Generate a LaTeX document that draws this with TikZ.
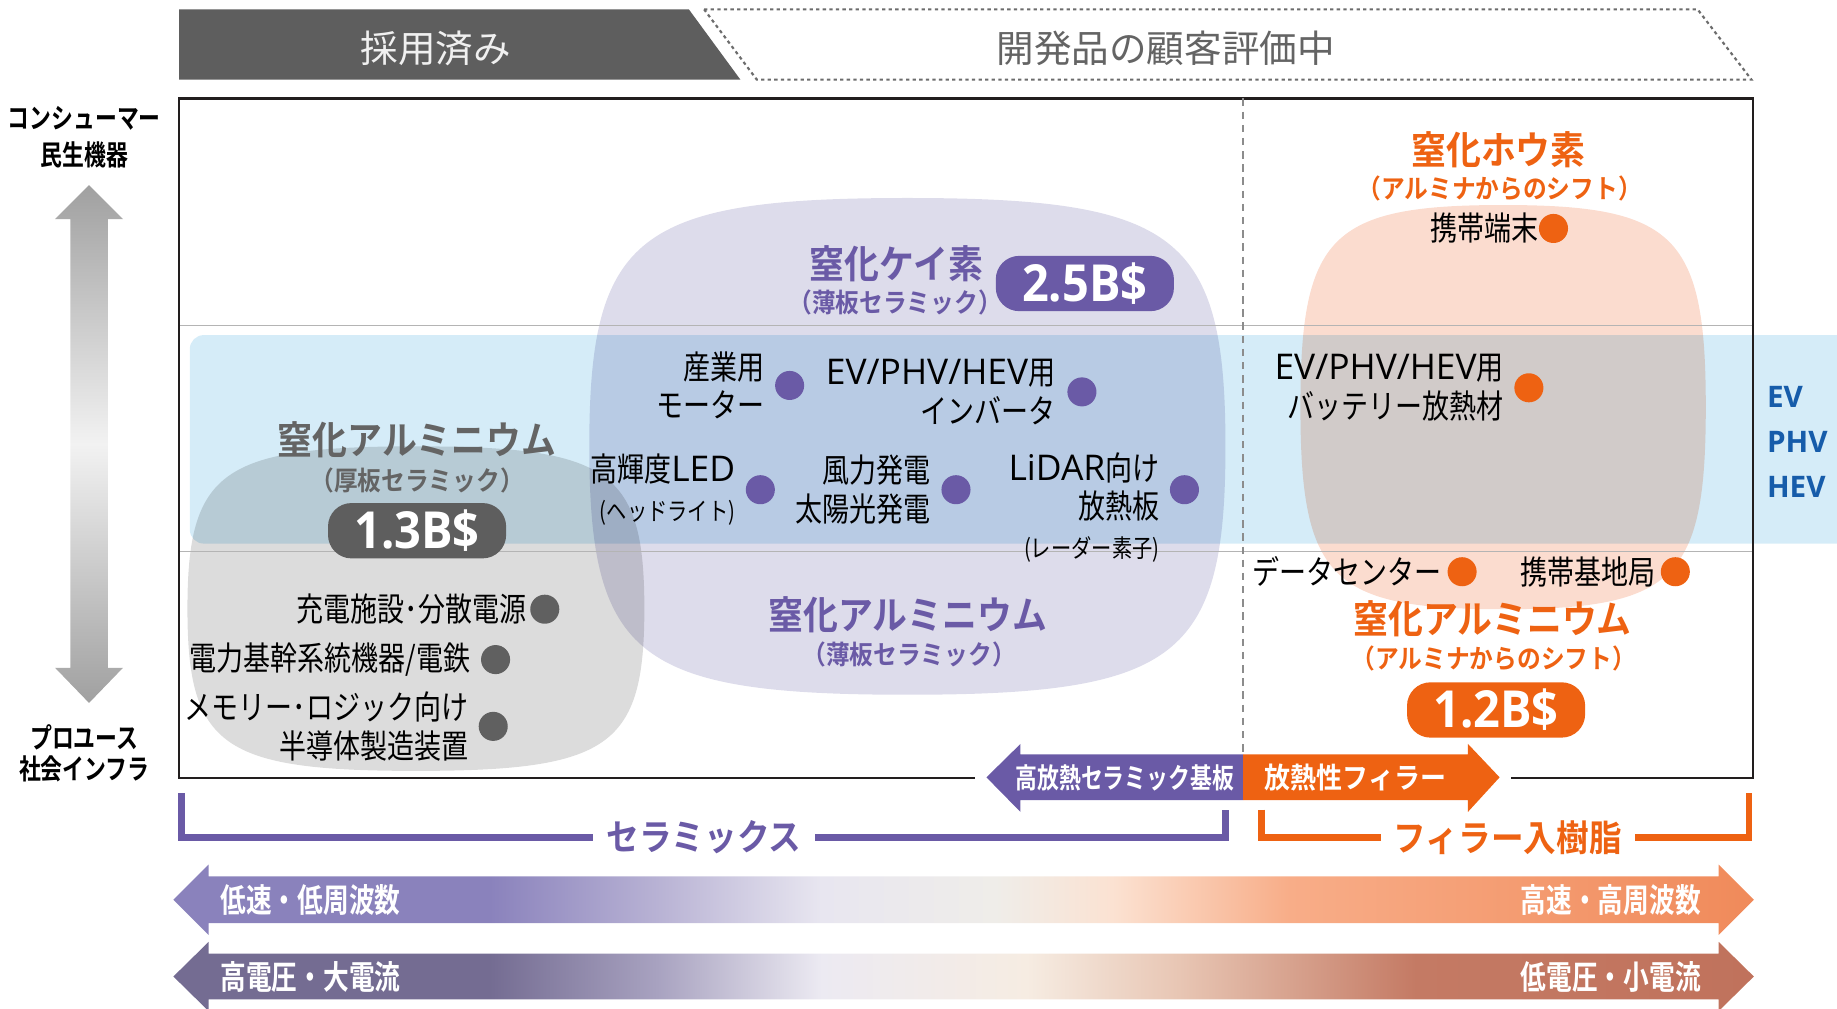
\documentclass[tikz,border=0pt]{standalone}
\usepackage{fontspec}
\usepackage{tikz}
\usetikzlibrary{shapes.geometric, arrows, positioning, calc}

\newfontfamily\jpn{Noto Sans CJK JP}
\newfontfamily\jpi[FakeStretch=0.82]{Noto Sans CJK JP}
\newfontfamily\jpt[FakeStretch=0.9]{Noto Sans CJK JP Bold}
\newfontfamily\jpc[FakeStretch=0.78]{Noto Sans CJK JP Bold}
\newfontfamily\lat{Open Sans}
\newfontfamily\latb[FakeStretch=0.92]{Open Sans Bold}
\newcommand{\la}[1]{{\lat\fontsize{21.5}{23.5}\selectfont #1}}
\newcommand{\sm}[1]{{\fontsize{15}{17}\selectfont #1}}

\definecolor{hdrG}{RGB}{94,94,94}
\definecolor{hdrW}{RGB}{240,240,240}
\definecolor{grayT}{RGB}{100,100,100}
\definecolor{purp}{RGB}{106,90,166}
\definecolor{orng}{RGB}{238,98,18}
\definecolor{dotG}{RGB}{96,96,96}
\definecolor{blobG}{RGB}{220,220,220}
\definecolor{blobP}{RGB}{221,220,235}
\definecolor{blobO}{RGB}{251,220,207}
\definecolor{bandB}{RGB}{213,236,248}
\definecolor{gridC}{RGB}{180,180,180}
\definecolor{dashC}{RGB}{140,140,140}
\definecolor{frameC}{RGB}{34,30,30}
\definecolor{evB}{RGB}{22,92,170}
\definecolor{axG}{RGB}{160,160,160}
\definecolor{axW}{RGB}{242,242,242}
% speed arrow
\definecolor{sA}{RGB}{138,130,188}
\definecolor{sB}{RGB}{184,178,212}
\definecolor{sC}{RGB}{232,230,240}
\definecolor{sD}{RGB}{239,237,233}
\definecolor{sE}{RGB}{251,226,210}
\definecolor{sF}{RGB}{248,173,136}
\definecolor{sG}{RGB}{240,138,90}
% power arrow
\definecolor{pA}{RGB}{116,108,146}
\definecolor{pB}{RGB}{168,162,192}
\definecolor{pC}{RGB}{236,234,242}
\definecolor{pD}{RGB}{246,236,226}
\definecolor{pE}{RGB}{232,198,180}
\definecolor{pF}{RGB}{196,122,100}
\definecolor{pG}{RGB}{192,114,92}

\pgfdeclarehorizontalshading{speedsh}{100bp}{color(0bp)=(sA); color(25bp)=(sA); color(35bp)=(sA); color(40.3bp)=(sB); color(45.5bp)=(sC); color(51bp)=(sD); color(54.7bp)=(sE); color(60.3bp)=(sF); color(75bp)=(sG); color(100bp)=(sG)}
\pgfdeclarehorizontalshading{powersh}{100bp}{color(0bp)=(pA); color(25bp)=(pA); color(35bp)=(pA); color(40.3bp)=(pB); color(45.5bp)=(pC); color(52bp)=(pD); color(56.8bp)=(pE); color(64.3bp)=(pF); color(75bp)=(pG); color(100bp)=(pG)}

\tikzstyle{hdr} = [inner sep=0pt, font=\jpn\fontsize{22.8}{24}\selectfont]
\tikzstyle{ttl} = [inner sep=0pt, font=\jpt\fontsize{23.5}{26}\selectfont]
\tikzstyle{sub} = [inner sep=0pt, font=\jpt\fontsize{16}{18}\selectfont]
\tikzstyle{badge} = [rectangle, rounded corners=0.5cm, minimum width=3.8cm, minimum height=1.18cm, inner sep=0pt, text=white, font=\latb\fontsize{31}{31}\selectfont]
\tikzstyle{lbl} = [inner sep=0pt, align=right, font=\jpi\fontsize{20}{23.5}\selectfont]
\tikzstyle{dotp} = [circle, fill=purp, minimum size=0.62cm, inner sep=0pt]
\tikzstyle{doto} = [dotp, fill=orng]
\tikzstyle{dotg} = [dotp, fill=dotG]
\tikzstyle{axistxt} = [inner sep=0pt, align=center, font=\jpc\fontsize{17}{22.5}\selectfont]
\tikzstyle{arrowtxt} = [inner sep=0pt, text=white, font=\jpc\fontsize{20}{22}\selectfont]
\tikzstyle{brk} = [line width=4pt]
\tikzstyle{brktxt} = [inner xsep=8.5pt, inner ysep=0pt, fill=white, font=\jpt\fontsize{22}{24}\selectfont]

\begin{document}
\begin{tikzpicture}[x=0.025cm, y=-0.025cm]
\useasboundingbox (0,0) rectangle (1568,861);

% Header
\fill[hdrG] (153,8) -- (588,8) -- (632,68) -- (153,68) -- cycle;
\draw[gridC!60!black, line width=1.3pt, dash pattern=on 2pt off 2pt] (601,8) -- (1449,8) -- (1495,68) -- (646,68) -- cycle;
\node (adopt) [hdr, text=hdrW] at (372,41) {採用済み};
\node (evalT) [hdr, text=grayT] at (995,41) {開発品の顧客評価中};

% Blobs and band
\fill[blobG, blend mode=multiply] (355,381) .. controls (520.75,381) and (550,401.8) .. (550,519.5) .. controls (550,637.2) and (520.75,658) .. (355,658) .. controls (189.25,658) and (160,637.2) .. (160,519.5) .. controls (160,401.8) and (189.25,381) .. (355,381) -- cycle;
\fill[blobP, blend mode=multiply] (774.5,169) .. controls (1005.3,169) and (1046,200.8) .. (1046,381) .. controls (1046,561.2) and (1005.3,593) .. (774.5,593) .. controls (543.7,593) and (503,561.2) .. (503,381) .. controls (503,200.8) and (543.7,169) .. (774.5,169) -- cycle;
\fill[blobO, blend mode=multiply] (1283,175) .. controls (1430,175) and (1456,200.9) .. (1456,347.5) .. controls (1456,494.1) and (1430,520) .. (1283,520) .. controls (1136,520) and (1110,494.1) .. (1110,347.5) .. controls (1110,200.9) and (1136,175) .. (1283,175) -- cycle;
\fill[bandB, blend mode=multiply, rounded corners=0.3cm] (162,286) rectangle (1600,464);

% Frame
\draw[gridC, line width=0.8pt] (153,278) -- (1496,278);
\draw[gridC, line width=0.8pt] (153,471) -- (1496,471);
\draw[frameC, line width=1.4pt] (832,664) -- (153,664) -- (153,84) -- (1496,84) -- (1496,664) -- (1290,664);
\draw[dashC, line width=1pt, dash pattern=on 4.5pt off 3.5pt] (1061,84) -- (1061,664);

% Axis
\shade[top color=axG, bottom color=axG, middle color=axW] (76,158) -- (105,187) -- (92,187) -- (92,570) -- (105,570) -- (76,600) -- (47,570) -- (60,570) -- (60,187) -- (47,187) -- cycle;
\node (consumer) [axistxt] at (72,117) {コンシューマー\\民生機器};
\node (prouse) [axistxt, font=\jpc\fontsize{17}{19}\selectfont] at (72,643) {プロユース\\社会インフラ};
\node (evT) [anchor=west, inner sep=0pt, align=left, text=evB, font=\lat\bfseries\fontsize{18}{27.4}\selectfont] at (1508,377) {EV\\PHV\\HEV};

% Titles
\node (alnThick) [ttl, text=grayT] at (356,375) {窒化アルミニウム};
\node (alnThickS) [sub, text=grayT] at (356,410) {（厚板セラミック）};
\node (alnThickB) [badge, fill=hdrG] at (356,453) {1.3B\$};
\node (sin) [ttl, text=purp] at (765,225) {窒化ケイ素};
\node (sinS) [sub, text=purp] at (764,258) {（薄板セラミック）};
\node (sinB) [badge, fill=purp] at (926,242) {2.5B\$};
\node (alnThin) [ttl, text=purp] at (775,525) {窒化アルミニウム};
\node (alnThinS) [sub, text=purp] at (776,559) {（薄板セラミック）};
\node (bn) [ttl, text=orng] at (1279,128) {窒化ホウ素};
\node (bnS) [sub, text=orng] at (1280,161) {（アルミナからのシフト）};
\node (alnFill) [ttl, text=orng] at (1274,528) {窒化アルミニウム};
\node (alnFillS) [sub, text=orng] at (1275,562) {（アルミナからのシフト）};
\node (alnFillB) [badge, fill=orng] at (1277,606) {1.2B\$};

% Purple items
\node (dInd) [dotp] at (674,329) {};
\node (dInv) [dotp] at (923.5,334.5) {};
\node (dLed) [dotp] at (649,418) {};
\node (dWind) [dotp] at (816,418) {};
\node (dLidar) [dotp] at (1011,418) {};
\node (tInd) [lbl, left=6pt of dInd] {産業用\\モーター};
\node (tInv) [lbl, left=7pt of dInv] {\la{EV/PHV/HEV}用\\インバータ};
\node (tLed) [lbl, left=6pt of dLed] {高輝度\la{LED}\\\sm{(ヘッドライト)}};
\node (tWind) [lbl, left=6pt of dWind] {風力発電\\太陽光発電};
\node (tLidar) [lbl, left=6pt of dLidar, yshift=-10.7pt] {\la{LiDAR}向け\\放熱板\\\sm{(レーダー素子)}};

% Orange items
\node (dMob) [doto] at (1326,195) {};
\node (dBat) [doto] at (1305,331) {};
\node (dDc) [doto] at (1248,488) {};
\node (dBase) [doto] at (1430,488) {};
\node (tMob) [lbl, left=0pt of dMob] {携帯端末};
\node (tBat) [lbl, left=6pt of dBat] {\la{EV/PHV/HEV}用\\バッテリー放熱材};
\node (tDc) [lbl, left=3pt of dDc] {データセンター};
\node (tBase) [lbl, left=3pt of dBase] {携帯基地局};

% Gray items
\node (dChg) [dotg] at (465,520) {};
\node (dGrid) [dotg] at (423,563) {};
\node (dMem) [dotg] at (421,620) {};
\node (tChg) [lbl, left=2pt of dChg] {充電施設･分散電源};
\node (tGrid) [lbl, left=6pt of dGrid] {電力基幹系統機器/電鉄};
\node (tMem) [lbl, left=6pt of dMem] {メモリー･ロジック向け\\半導体製造装置};

% Substrate / filler arrow
\fill[purp] (1061,644) -- (871,644) -- (871,635) -- (842,663.5) -- (871,693) -- (871,683) -- (1061,683) -- cycle;
\fill[orng] (1061,644) -- (1253,644) -- (1253,635) -- (1280,663.5) -- (1253,693) -- (1253,683) -- (1061,683) -- cycle;
\node (sub) [arrowtxt, font=\jpc\fontsize{17}{19}\selectfont] at (960,664) {高放熱セラミック基板};
\node (fil) [arrowtxt, font=\jpt\fontsize{17.5}{19}\selectfont] at (1157,664) {放熱性フィラー};

% Brackets
\coordinate (cerA) at (155,677);
\coordinate (cerB) at (1046,691);
\coordinate (filA) at (1077,691);
\coordinate (filB) at (1493,677);
\draw[brk, purp] (cerA) |- (cerB |- 0,715) -- (cerB);
\draw[brk, orng] (filA) |- (filB |- 0,715) -- (filB);
\node (cer) [brktxt, text=purp] at (601,715) {セラミックス};
\node (filr) [brktxt, text=orng, inner xsep=8pt] at (1287,715) {フィラー入樹脂};

% Gradient arrows
\shade[shading=speedsh] (148,768) -- (178,738) -- (178,748) -- (1467,748) -- (1467,738) -- (1497,768) -- (1467,798) -- (1467,788) -- (178,788) -- (178,798) -- cycle;
\shade[shading=powersh] (148,833.5) -- (178,804) -- (178,814) -- (1467,814) -- (1467,804) -- (1497,833.5) -- (1467,863) -- (1467,853) -- (178,853) -- (178,863) -- cycle;
\node (slow) [arrowtxt, anchor=west] at (188,768) {低速・低周波数};
\node (fast) [arrowtxt, anchor=east] at (1452,768) {高速・高周波数};
\node (hiV) [arrowtxt, anchor=west] at (188,834) {高電圧・大電流};
\node (loV) [arrowtxt, anchor=east] at (1452,834) {低電圧・小電流};

\end{tikzpicture}
\end{document}
